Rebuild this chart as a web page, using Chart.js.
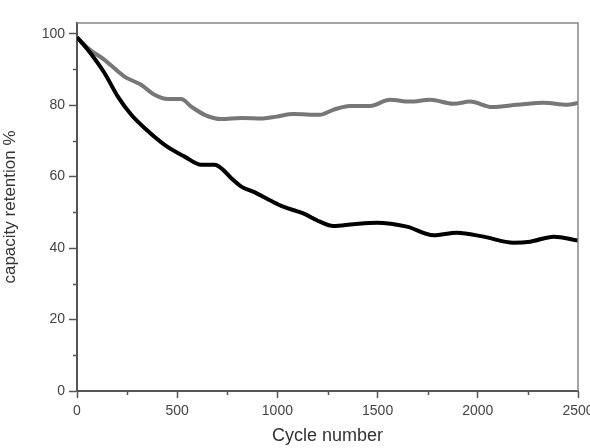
<!DOCTYPE html>
<html>
<head>
<meta charset="utf-8">
<script src="https://cdn.jsdelivr.net/npm/chart.js@4/dist/chart.umd.min.js"></script>
<style>
  html, body { margin: 0; padding: 0; background: #fff; }
  #wrap { width: 590px; height: 448px; position: relative; }
</style>
</head>
<body>
<div id="wrap"><canvas id="c" width="590" height="448"></canvas></div>
<script>
// ---- data ----
const blackCycles = [0, 54, 137, 204, 271, 337, 437, 537, 620, 687, 729, 771, 820, 879, 962, 1029, 1129, 1212, 1279, 1379, 1496, 1646, 1779, 1896, 2029, 2179, 2262, 2379, 2500];
const blackValues = [99, 95.5, 89.0, 82.4, 77.3, 73.6, 68.9, 65.6, 63.3, 63.3, 61.9, 59.5, 57.2, 55.8, 53.4, 51.6, 49.7, 47.4, 46.2, 46.7, 47.1, 46.0, 43.6, 44.3, 43.2, 41.5, 41.8, 43.2, 42.1];

const grayCycles = [0, 54, 137, 237, 320, 387, 454, 520, 570, 637, 720, 820, 929, 996, 1079, 1212, 1279, 1362, 1462, 1562, 1662, 1762, 1879, 1962, 2071, 2196, 2329, 2446, 2500];
const grayValues = [99, 96.0, 92.7, 88.0, 85.7, 82.9, 81.7, 81.7, 79.6, 77.3, 76.1, 76.4, 76.3, 76.8, 77.5, 77.3, 78.7, 79.8, 79.8, 81.5, 81.0, 81.5, 80.4, 81.0, 79.5, 80.1, 80.7, 80.1, 80.6];

const xMajorTicks = [0, 500, 1000, 1500, 2000, 2500];
const xMinorTicks = [250, 750, 1250, 1750, 2250];
const yMajorTicks = [0, 20, 40, 60, 80, 100];
const yMinorTicks = [10, 30, 50, 70, 90];

const xTitle = 'Cycle number';
const yTitle = 'capacity retention %';

const toPoints = (xs, ys) => xs.map((x, i) => ({ x: x, y: ys[i] }));

const framePlugin = {
  id: 'frame',
  afterDraw(chart) {
    const ctx = chart.ctx;
    const a = chart.chartArea;
    const xs = chart.scales.x, ys = chart.scales.y;
    ctx.save();
    ctx.strokeStyle = '#888';
    ctx.lineWidth = 1.5;
    ctx.beginPath();
    ctx.moveTo(a.left, a.top);
    ctx.lineTo(a.right, a.top);
    ctx.lineTo(a.right, a.bottom);
    ctx.stroke();
    ctx.strokeStyle = '#555';
    ctx.lineWidth = 1.5;
    ctx.beginPath();
    xMinorTicks.forEach(v => {
      const px = Math.round(xs.getPixelForValue(v)) + 0.5;
      ctx.moveTo(px, a.bottom);
      ctx.lineTo(px, a.bottom + 4);
    });
    yMinorTicks.forEach(v => {
      const py = Math.round(ys.getPixelForValue(v)) + 0.5;
      ctx.moveTo(a.left, py);
      ctx.lineTo(a.left - 4, py);
    });
    ctx.stroke();
    ctx.restore();
  }
};

const FONT = 'Liberation Sans, Arial, sans-serif';

new Chart(document.getElementById('c'), {
  type: 'line',
  data: {
    datasets: [
      {
        data: toPoints(blackCycles, blackValues),
        borderColor: '#000',
        borderWidth: 4,
        pointRadius: 0,
        cubicInterpolationMode: 'monotone',
        fill: false
      },
      {
        data: toPoints(grayCycles, grayValues),
        borderColor: '#777',
        borderWidth: 4,
        pointRadius: 0,
        cubicInterpolationMode: 'monotone',
        fill: false
      }
    ]
  },
  options: {
    responsive: false,
    animation: false,
    devicePixelRatio: 1,
    layout: { padding: { top: 23, right: 12, left: 0, bottom: 0 } },
    plugins: { legend: { display: false }, tooltip: { enabled: false } },
    scales: {
      x: {
        type: 'linear',
        min: 0,
        max: 2500,
        afterBuildTicks(s) { s.ticks = xMajorTicks.map(v => ({ value: v })); },
        afterFit(s) { s.height = 57; s.paddingLeft = 0; s.paddingRight = 0; },
        grid: { drawOnChartArea: false, drawTicks: true, tickLength: 7, tickWidth: 1.5, tickColor: '#555' },
        border: { display: true, color: '#555', width: 2 },
        ticks: {
          color: '#444',
          padding: 5,
          maxRotation: 0,
          callback: v => String(v),
          font: { family: FONT, size: 14 }
        },
        title: {
          display: true,
          text: xTitle,
          color: '#333',
          font: { family: FONT, size: 18 },
          padding: { top: 0, bottom: 1 }
        }
      },
      y: {
        type: 'linear',
        min: 0,
        max: 103,
        afterBuildTicks(s) { s.ticks = yMajorTicks.map(v => ({ value: v })); },
        afterFit(s) { s.width = 77; s.paddingTop = 0; s.paddingBottom = 0; },
        grid: { drawOnChartArea: false, drawTicks: true, tickLength: 8, tickWidth: 1.5, tickColor: '#555' },
        border: { display: true, color: '#555', width: 2 },
        ticks: {
          color: '#444',
          padding: 4,
          callback: v => String(v),
          font: { family: FONT, size: 14 }
        },
        title: {
          display: true,
          text: yTitle,
          color: '#333',
          font: { family: FONT, size: 17 },
          padding: { top: 0, bottom: 0 }
        }
      }
    }
  },
  plugins: [framePlugin]
});
</script>
</body>
</html>
